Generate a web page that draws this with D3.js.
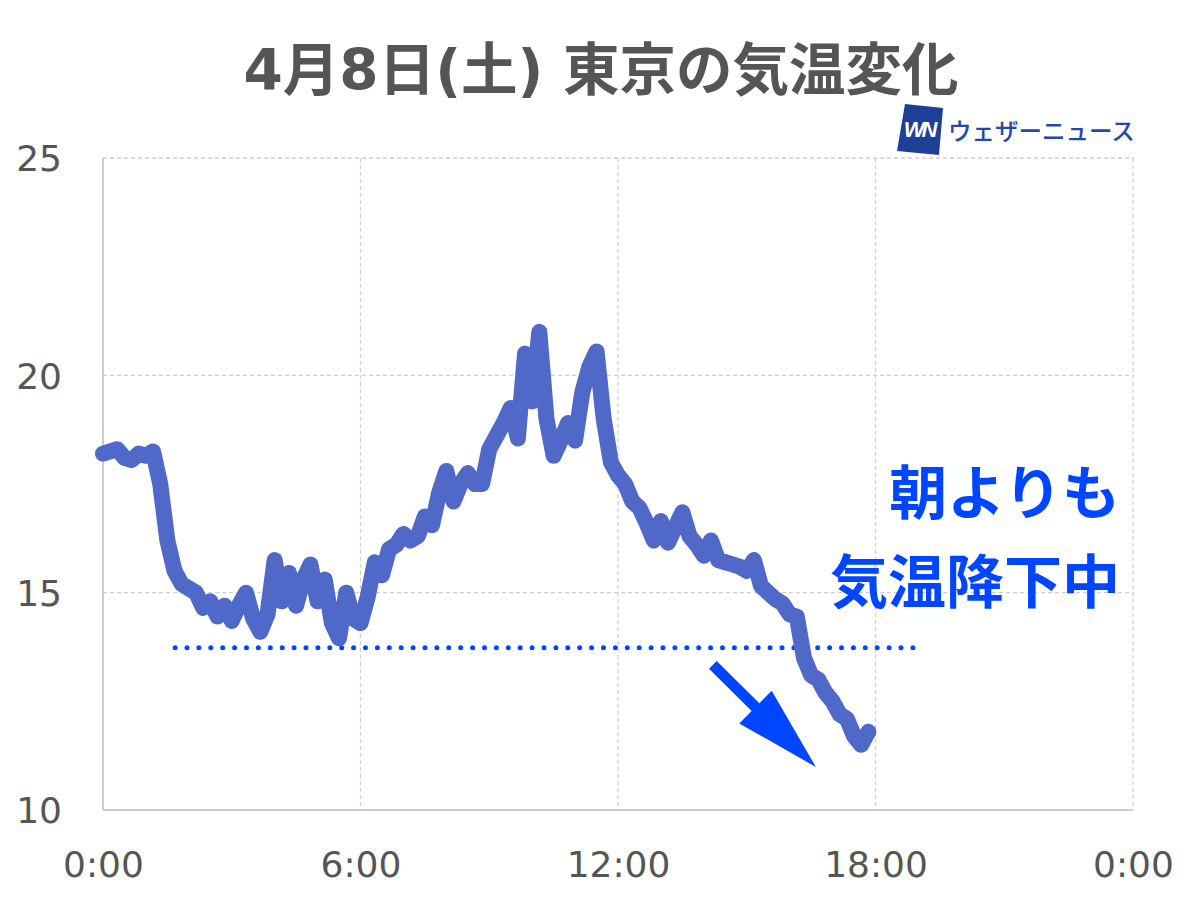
<!DOCTYPE html>
<html><head><meta charset="utf-8">
<script src="https://cdn.jsdelivr.net/npm/d3@7"></script>
<style>
html,body{margin:0;padding:0;background:#fff;}
svg{display:block;}
</style></head>
<body>
<svg id="chart" width="1200" height="900"></svg>
<script>
// ---- data ----
const title = "4月8日(土) 東京の気温変化";
const stepMinutes = 10; // one reading every 10 minutes from 0:00
const temps = [
 18.2,18.25,18.3,18.1,18.05,18.2,18.15,18.25,17.5,16.2,
 15.5,15.2,15.1,15.0,14.65,14.8,14.45,14.7,14.35,14.7,
 15.0,14.4,14.1,14.5,15.75,14.8,15.45,14.7,15.3,15.65,
 14.8,15.3,14.3,13.95,15.0,14.4,14.3,14.9,15.7,15.4,
 16.0,16.1,16.35,16.2,16.3,16.75,16.55,17.3,17.8,17.1,
 17.5,17.75,17.5,17.5,18.3,18.6,18.9,19.25,18.55,20.5,
 19.4,21.0,19.0,18.15,18.5,18.9,18.5,19.6,20.2,20.55,
 19.0,18.0,17.7,17.5,17.1,16.95,16.6,16.2,16.65,16.15,
 16.5,16.85,16.3,16.1,15.85,16.2,15.75,15.7,15.65,15.6,
 15.5,15.75,15.15,15.0,14.85,14.75,14.5,14.45,13.5,13.1,
 13.0,12.7,12.5,12.2,12.1,11.7,11.5,11.8
];
const xTicks = [0, 6, 12, 18, 24];
const xTickLabels = ["0:00", "6:00", "12:00", "18:00", "0:00"];
const yTicks = [10, 15, 20, 25];
const morningLevel = 13.73;          // dotted reference line (morning minimum)
const morningSpan = [1.68, 18.9];    // hours
const arrowFrom = [14.21, 13.34];    // [hour, °C]
const arrowTo = [16.61, 10.99];
const noteLines = ["朝よりも", "気温降下中"];
const logoText = "ウェザーニュース";

// ---- layout ----
const svg = d3.select("#chart");
const L = 103, R = 1133, T = 158, B = 810;
const x = d3.scaleLinear().domain([0, 24]).range([L, R]);
const y = d3.scaleLinear().domain([10, 25]).range([B, T]);
const data = temps.map((v, i) => ({h: i * stepMinutes / 60, t: v}));

// title
svg.append("text")
  .attr("x", 601).attr("y", 90)
  .attr("text-anchor", "middle")
  .attr("font-family", "'DejaVu Sans','Noto Sans CJK JP',sans-serif")
  .attr("font-weight", "bold")
  .attr("font-size", 56.5)
  .attr("fill", "#555555")
  .text(title);

// grid
const grid = svg.append("g");
grid.selectAll("line.h").data(yTicks.filter(d => d > 10)).join("line")
  .attr("x1", L).attr("x2", R)
  .attr("y1", d => y(d)).attr("y2", d => y(d))
  .attr("stroke", "#cfcfcf").attr("stroke-width", 1.3)
  .attr("stroke-dasharray", "4,3");
grid.selectAll("line.v").data(xTicks.filter(d => d > 0)).join("line")
  .attr("x1", d => x(d)).attr("x2", d => x(d))
  .attr("y1", T).attr("y2", B)
  .attr("stroke", "#cfcfcf").attr("stroke-width", 1.3)
  .attr("stroke-dasharray", "4,3");
// axis lines
svg.append("line").attr("x1", L).attr("x2", L).attr("y1", T).attr("y2", B)
  .attr("stroke", "#bdbdbd").attr("stroke-width", 1.5);
svg.append("line").attr("x1", L).attr("x2", R).attr("y1", B).attr("y2", B)
  .attr("stroke", "#bdbdbd").attr("stroke-width", 1.5);

// axes labels via d3 axes
const yAxis = d3.axisLeft(y).tickValues(yTicks).tickSize(0).tickPadding(0);
const gy = svg.append("g").attr("transform", `translate(62,0)`).call(yAxis);
gy.select(".domain").remove();
gy.selectAll("text")
  .attr("font-family", "'DejaVu Sans',sans-serif")
  .attr("font-size", 36).attr("fill", "#555555")
  .attr("dy", "0.36em");

const xAxis = d3.axisBottom(x).tickValues(xTicks)
  .tickFormat((d, i) => xTickLabels[i]).tickSize(0).tickPadding(0);
const gx = svg.append("g").attr("transform", `translate(0,${B})`).call(xAxis);
gx.select(".domain").remove();
gx.selectAll("text")
  .attr("font-family", "'DejaVu Sans',sans-serif")
  .attr("font-size", 36).attr("fill", "#555555")
  .attr("y", 67).attr("dy", 0);

// dotted reference line
svg.append("line")
  .attr("x1", x(morningSpan[0])).attr("x2", x(morningSpan[1]))
  .attr("y1", y(morningLevel)).attr("y2", y(morningLevel))
  .attr("stroke", "#0045ff").attr("stroke-width", 5)
  .attr("stroke-linecap", "round")
  .attr("stroke-dasharray", "0,11.9");

// temperature line
const line = d3.line().x(d => x(d.h)).y(d => y(d.t));
svg.append("path").datum(data)
  .attr("d", line)
  .attr("fill", "none")
  .attr("stroke", "#5068c8")
  .attr("stroke-width", 16)
  .attr("stroke-linejoin", "round")
  .attr("stroke-linecap", "round");

// arrow
(function(){
  const x0 = x(arrowFrom[0]), y0 = y(arrowFrom[1]);
  const x1 = x(arrowTo[0]), y1 = y(arrowTo[1]);
  const dx = x1 - x0, dy = y1 - y0, len = Math.hypot(dx, dy);
  const ux = dx / len, uy = dy / len, px = -uy, py = ux;
  const headLen = 85, headHalf = 23, shaftHalf = 5.5;
  const bx = x1 - ux * headLen, by = y1 - uy * headLen;
  const pts = [
    [x0 + px * shaftHalf, y0 + py * shaftHalf],
    [bx + px * shaftHalf, by + py * shaftHalf],
    [bx + px * headHalf, by + py * headHalf],
    [x1, y1],
    [bx - px * headHalf, by - py * headHalf],
    [bx - px * shaftHalf, by - py * shaftHalf],
    [x0 - px * shaftHalf, y0 - py * shaftHalf]
  ];
  svg.append("path").attr("d", "M" + pts.map(p => p.join(",")).join("L") + "Z")
    .attr("fill", "#0045ff");
})();

// annotation text
svg.append("g").selectAll("text").data(noteLines).join("text")
  .attr("x", 1120)
  .attr("y", (d, i) => 514 + i * 89)
  .attr("text-anchor", "end")
  .attr("font-family", "'Noto Sans CJK JP',sans-serif")
  .attr("font-weight", "bold")
  .attr("font-size", 58)
  .attr("fill", "#0045ff")
  .text(d => d);

// logo
const logo = svg.append("g");
logo.append("path")
  .attr("d", "M905,104 L943,108 L939,155 L897,151 Z")
  .attr("fill", "#1d3f98");
logo.append("text")
  .attr("x", 919).attr("y", 137)
  .attr("text-anchor", "middle")
  .attr("font-family", "'Liberation Sans',Arial,sans-serif")
  .attr("font-weight", "bold").attr("font-style", "italic")
  .attr("font-size", 22).attr("letter-spacing", -3)
  .attr("fill", "#ffffff")
  .text("WN");
logo.append("text")
  .attr("x", 948).attr("y", 140)
  .attr("font-family", "'Noto Sans CJK JP',sans-serif")
  .attr("font-weight", "500")
  .attr("font-size", 23.5)
  .attr("fill", "#1f4aa6")
  .text(logoText);
</script>
</body></html>
